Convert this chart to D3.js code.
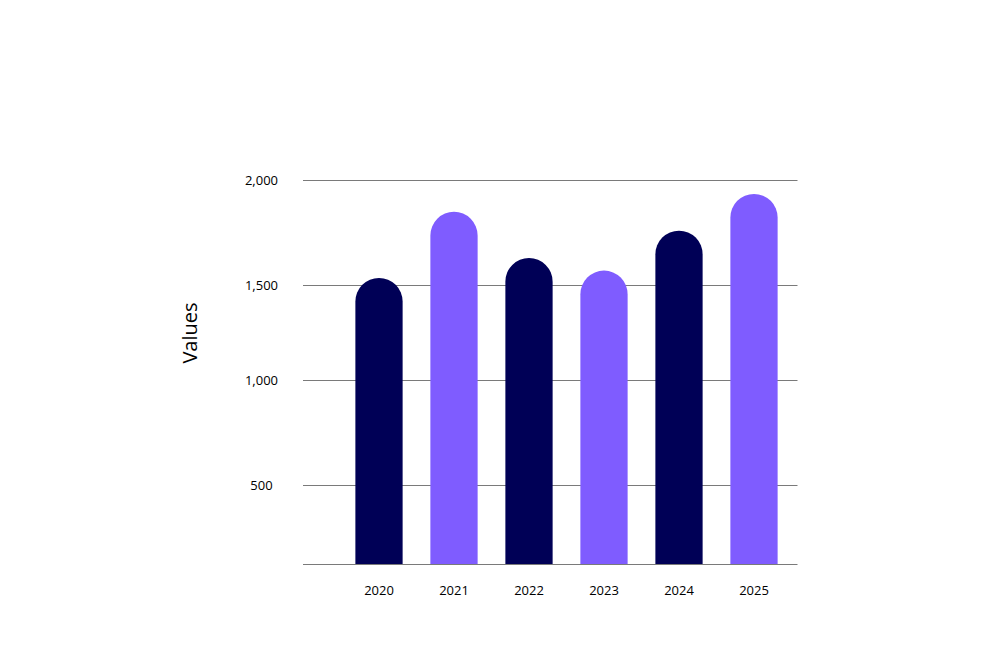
<!DOCTYPE html>
<html>
<head>
<meta charset="utf-8">
<script src="https://cdnjs.cloudflare.com/ajax/libs/d3/7.8.5/d3.min.js"></script>
<style>
  html, body { margin: 0; padding: 0; background: #fff; }
  text { font-family: "Open Sans", sans-serif; fill: #000; }
</style>
</head>
<body>
<div id="chart"></div>
<script>
// data
var years = ["2020", "2021", "2022", "2023", "2024", "2025"];
var values = [1535, 1850, 1630, 1570, 1760, 1935];
var yTicks = [500, 1000, 1500, 2000];
var colors = ["#000056", "#7f5cff"];

var width = 1000, height = 668;

var svg = d3.select("#chart")
    .append("svg")
    .attr("width", width)
    .attr("height", height);

// gridlines in the picture are not evenly spaced, so piecewise scale
var y = d3.scaleLinear()
    .domain([0, 500, 1000, 1500, 2000])
    .range([564, 485.3, 380.3, 285.3, 180.3]);

var x = d3.scaleBand()
    .domain(years)
    .range([341.5, 791.5])
    .paddingInner(0.37)
    .paddingOuter(0.185);

var gridX1 = 303, gridX2 = 797.5;

// gridlines + baseline
svg.append("g")
    .selectAll("line")
    .data([0].concat(yTicks))
    .enter().append("line")
    .attr("x1", gridX1)
    .attr("x2", gridX2)
    .attr("y1", function(d) { return Math.round(y(d)) + 0.5; })
    .attr("y2", function(d) { return Math.round(y(d)) + 0.5; })
    .attr("stroke", "#7a7a7a")
    .attr("stroke-width", 1);

// y tick labels
svg.append("g")
    .selectAll("text")
    .data(yTicks)
    .enter().append("text")
    .attr("x", 261.5)
    .attr("y", function(d) { return y(d); })
    .attr("dy", "0.35em")
    .attr("text-anchor", "middle")
    .style("font-size", "13px")
    .text(function(d) { return d3.format(",")(d); });

// bars with round top
var r = x.bandwidth() / 2;
svg.append("g")
    .selectAll("path")
    .data(values)
    .enter().append("path")
    .attr("fill", function(d, i) { return colors[i % 2]; })
    .attr("d", function(d, i) {
        var x0 = x(years[i]), x1 = x0 + x.bandwidth();
        var top = y(d), base = y(0);
        return "M" + x0 + "," + base +
            "L" + x0 + "," + (top + r) +
            "A" + r + "," + r + " 0 0 1 " + x1 + "," + (top + r) +
            "L" + x1 + "," + base + "Z";
    });

// x labels
svg.append("g")
    .selectAll("text")
    .data(years)
    .enter().append("text")
    .attr("x", function(d) { return x(d) + x.bandwidth() / 2; })
    .attr("y", 590)
    .attr("dy", "0.35em")
    .attr("text-anchor", "middle")
    .style("font-size", "13px")
    .text(function(d) { return d; });

// y axis title
svg.append("text")
    .attr("transform", "translate(196.5,333) rotate(-90)")
    .attr("text-anchor", "middle")
    .style("font-size", "20px")
    .text("Values");
</script>
</body>
</html>
